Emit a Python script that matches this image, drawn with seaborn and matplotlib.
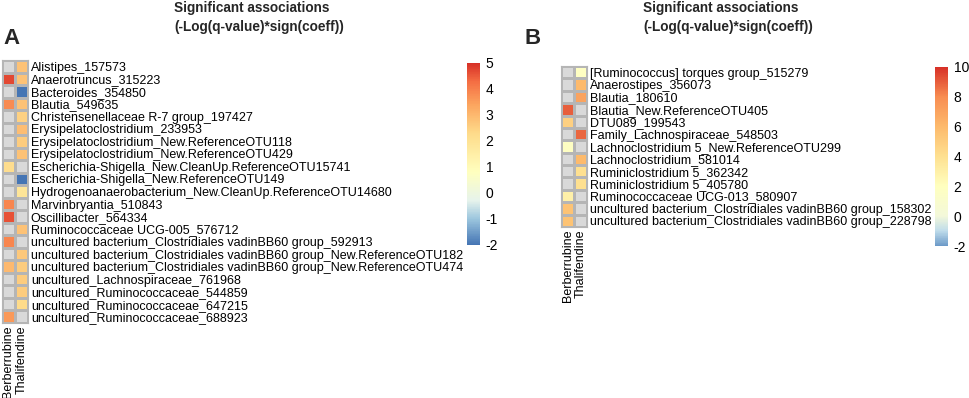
import numpy as np
import pandas as pd
import matplotlib
matplotlib.use("Agg")
import matplotlib.pyplot as plt
from matplotlib.colors import LinearSegmentedColormap
import seaborn as sns

sns.set_theme(style="white")
plt.rcParams["font.family"] = ["Liberation Sans", "DejaVu Sans"]
plt.rcParams["axes.unicode_minus"] = False

columns = ["Berberrubine", "Thalifendine"]

taxa_a = [
    "Alistipes_157573",
    "Anaerotruncus_315223",
    "Bacteroides_354850",
    "Blautia_549635",
    "Christensenellaceae R-7 group_197427",
    "Erysipelatoclostridium_233953",
    "Erysipelatoclostridium_New.ReferenceOTU118",
    "Erysipelatoclostridium_New.ReferenceOTU429",
    "Escherichia-Shigella_New.CleanUp.ReferenceOTU15741",
    "Escherichia-Shigella_New.ReferenceOTU149",
    "Hydrogenoanaerobacterium_New.CleanUp.ReferenceOTU14680",
    "Marvinbryantia_510843",
    "Oscillibacter_564334",
    "Ruminococcaceae UCG-005_576712",
    "uncultured bacterium_Clostridiales vadinBB60 group_592913",
    "uncultured bacterium_Clostridiales vadinBB60 group_New.ReferenceOTU182",
    "uncultured bacterium_Clostridiales vadinBB60 group_New.ReferenceOTU474",
    "uncultured_Lachnospiraceae_761968",
    "uncultured_Ruminococcaceae_544859",
    "uncultured_Ruminococcaceae_647215",
    "uncultured_Ruminococcaceae_688923",
]
berb_a = [np.nan, 4.7, np.nan, 3.8, np.nan, np.nan, np.nan, np.nan, 2.2, np.nan, np.nan,
          3.9, 4.6, np.nan, 3.9, np.nan, 3.0, np.nan, np.nan, np.nan, 3.6]
thal_a = [2.8, 2.8, -2.0, 2.8, 2.5, 2.9, 2.6, 2.8, np.nan, -2.0, 1.9,
          np.nan, np.nan, 2.8, np.nan, 2.7, 2.6, 2.6, 2.6, 2.3, np.nan]

taxa_b = [
    "[Ruminococcus] torques group_515279",
    "Anaerostipes_356073",
    "Blautia_180610",
    "Blautia_New.ReferenceOTU405",
    "DTU089_199543",
    "Family_Lachnospiraceae_548503",
    "Lachnoclostridium 5_New.ReferenceOTU299",
    "Lachnoclostridium_581014",
    "Ruminiclostridium 5_362342",
    "Ruminiclostridium 5_405780",
    "Ruminococcaceae UCG-013_580907",
    "uncultured bacterium_Clostridiales vadinBB60 group_158302",
    "uncultured bacterium_Clostridiales vadinBB60 group_228798",
]
berb_b = [np.nan, np.nan, np.nan, 9.0, 4.8, np.nan, 1.8, np.nan, np.nan, np.nan, 3.0, 5.5, 5.5]
thal_b = [1.8, 6.0, 7.0, np.nan, np.nan, 8.8, np.nan, 6.0, 4.0, 4.0, np.nan, np.nan, np.nan]

ticks_a = [-2, -1, 0, 1, 2, 3, 4, 5]
ticks_b = [-2, 0, 2, 4, 6, 8, 10]

W, H = 969, 398


def make_cmap(vmin, vmax, anchors):
    pos = [(v - vmin) / (vmax - vmin) for v, _ in anchors]
    return LinearSegmentedColormap.from_list("c", list(zip(pos, [c for _, c in anchors])))


cmap_a = make_cmap(-2, 5, [(-2, "#4575B4"), (-1, "#9CC6DE"), (-0.3, "#E6F3EC"),
                           (0.8, "#FFFFBF"), (2.3, "#FEDB8A"), (3.4, "#FCA55F"),
                           (4.3, "#F46D43"), (5, "#D73027")])
cmap_b = make_cmap(-2, 10, [(-2, "#6C9AC8"), (-1, "#BFDCEB"), (0, "#F3F8DA"),
                            (2, "#FFFFBF"), (4, "#FEE090"), (6, "#FDBA6C"),
                            (8, "#F88D52"), (10, "#D73027")])


def px_axes(fig, x0, y0, x1, y1):
    return fig.add_axes([x0 / W, 1 - y1 / H, (x1 - x0) / W, (y1 - y0) / H])


def draw_panel(fig, taxa, berb, thal, cmap, vmin, vmax, ticks, hm_box, cb_box):
    df = pd.DataFrame({columns[0]: berb, columns[1]: thal}, index=taxa)
    ax = px_axes(fig, *hm_box)
    cax = px_axes(fig, *cb_box)
    ax.set_facecolor("#D9D9D9")
    sns.heatmap(df, ax=ax, cbar_ax=cax, cmap=cmap, vmin=vmin, vmax=vmax,
                linewidths=0.8, linecolor="#B5B5B5",
                xticklabels=True, yticklabels=True,
                cbar_kws={"ticks": ticks})
    for sp in ax.spines.values():
        sp.set_visible(True)
        sp.set_color("#B5B5B5")
        sp.set_linewidth(0.8)
    ax.yaxis.tick_right()
    ax.set_yticklabels(taxa, rotation=0, fontsize=9, color="black")
    ax.set_xticklabels(columns, rotation=90, fontsize=9, color="black")
    ax.tick_params(length=0, pad=2)
    ax.set_xlabel("")
    ax.set_ylabel("")
    cax.tick_params(length=0, labelsize=10, pad=4, colors="black")
    for sp in cax.spines.values():
        sp.set_visible(False)


fig = plt.figure(figsize=(W / 100, H / 100), dpi=100)
fig.patch.set_facecolor("white")

draw_panel(fig, taxa_a, berb_a, thal_a, cmap_a, -2, 5, ticks_a,
           (2, 60, 28, 323), (467, 63, 480, 245))
draw_panel(fig, taxa_b, berb_b, thal_b, cmap_b, -2, 10, ticks_b,
           (561, 66, 587, 227), (935, 67, 948, 246))

for x0 in (174, 643):
    fig.text(x0 / W, 1 - 8 / H, "Significant associations", ha="left", va="center",
             fontsize=9.8, fontweight="bold")
    fig.text(x0 / W, 1 - 27 / H, "(-Log(q-value)*sign(coeff))", ha="left", va="center",
             fontsize=9.8, fontweight="bold")
fig.text(3 / W, 1 - 38 / H, "A", ha="left", va="center", fontsize=16, fontweight="bold")
fig.text(524 / W, 1 - 38 / H, "B", ha="left", va="center", fontsize=16, fontweight="bold")

fig.savefig("out.png", dpi=100, facecolor="white")
